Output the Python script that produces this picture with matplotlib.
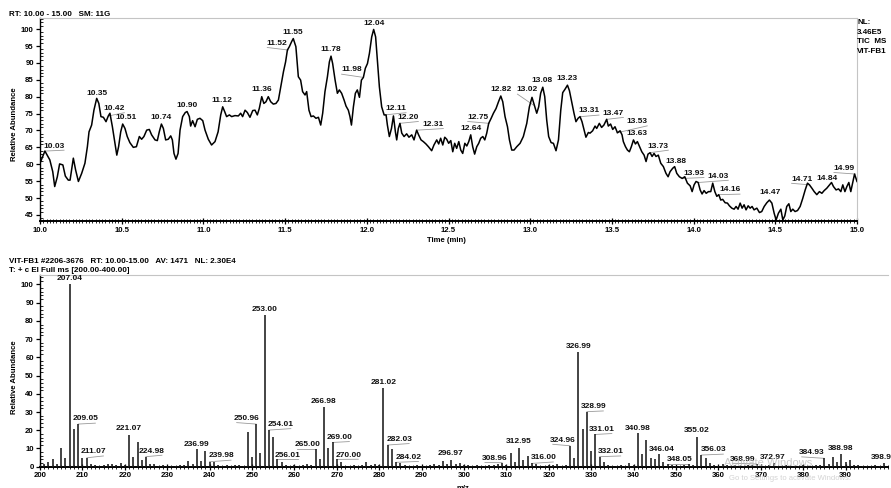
import matplotlib
matplotlib.use('Agg')
import matplotlib.pyplot as plt
from matplotlib.ticker import MultipleLocator

plt.rcParams['font.family'] = ['Liberation Sans', 'DejaVu Sans']

# ---------------- chromatogram (TIC) ----------------
tic_time = [10.000,10.030,10.060,10.078,10.090,10.106,10.120,10.140,10.155,10.173,10.184,10.204,10.218,10.235,10.255,10.275,10.290,10.300,10.316,10.330,10.347,10.360,10.373,10.388,10.404,10.418,10.428,10.443,10.459,10.470,10.481,10.494,10.506,10.520,10.534,10.550,10.571,10.590,10.608,10.622,10.636,10.653,10.669,10.683,10.704,10.718,10.730,10.743,10.755,10.769,10.785,10.800,10.810,10.820,10.832,10.845,10.857,10.873,10.889,10.900,10.914,10.922,10.934,10.949,10.963,10.979,10.996,11.010,11.030,11.050,11.071,11.090,11.106,11.118,11.130,11.142,11.159,11.173,11.193,11.214,11.228,11.240,11.255,11.269,11.285,11.302,11.316,11.330,11.342,11.357,11.370,11.383,11.397,11.412,11.428,11.444,11.459,11.475,11.490,11.503,11.514,11.526,11.540,11.550,
            11.566,11.581,11.595,11.607,11.622,11.632,11.646,11.659,11.673,11.689,11.704,11.718,11.730,11.744,11.759,11.771,11.781,11.791,11.806,11.820,11.832,11.846,11.861,11.873,11.887,11.897,11.906,11.918,11.930,11.942,11.955,11.967,11.979,11.991,12.004,12.016,12.030,12.042,12.054,12.065,12.077,12.091,12.106,12.118,12.126,12.138,12.151,12.163,12.175,12.183,12.193,12.203,12.214,12.228,12.244,12.258,12.275,12.289,12.305,12.317,12.332,12.346,12.362,12.377,12.397,12.411,12.428,12.440,12.452,12.465,12.477,12.489,12.501,12.514,12.526,12.538,12.550,12.563,12.575,12.587,12.600,12.612,12.624,12.636,12.648,12.660,12.673,12.685,12.697,12.710,12.722,12.734,12.746,12.761,12.775,12.791,12.806,12.820,12.832,12.846,12.861,12.873,12.887,12.901,12.918,12.938,12.958,12.979,12.995,13.011,13.025,13.040,13.052,13.064,13.077,13.089,13.101,13.113,13.128,13.142,13.158,13.173,13.187,13.199,13.213,13.228,13.240,13.254,13.268,13.280,13.293,13.305,13.317,13.329,13.341,13.356,
            13.366,13.382,13.397,13.407,13.423,13.437,13.451,13.468,13.478,13.492,13.505,13.519,13.534,13.550,13.562,13.570,13.583,13.595,13.607,13.619,13.632,13.644,13.656,13.668,13.683,13.697,13.709,13.721,13.734,13.746,13.758,13.770,13.784,13.799,13.815,13.831,13.844,13.856,13.872,13.884,13.897,13.913,13.930,13.946,13.962,13.979,13.991,14.003,14.015,14.028,14.040,14.052,14.064,14.077,14.091,14.105,14.117,14.130,14.142,14.154,14.166,14.178,14.193,14.207,14.219,14.234,14.248,14.260,14.272,14.285,14.297,14.309,14.321,14.334,14.346,14.358,14.370,14.387,14.403,14.417,14.432,14.448,14.464,14.479,14.493,14.505,14.519,14.534,14.546,14.558,14.570,14.583,14.595,14.607,14.621,14.636,14.652,14.668,14.683,14.697,14.709,14.724,14.738,14.754,14.770,14.785,14.799,14.815,14.832,14.844,14.856,14.872,14.887,14.901,14.913,14.926,14.938,14.950,14.962,14.975,14.985,15.000]
tic_abund = [60.3,63.9,61.3,57.8,53.4,56.3,60.1,59.8,56.5,55.3,55.3,61.8,58.3,54.9,57.3,60.3,65.2,69.6,71.6,76.0,79.5,78.0,74.1,73.9,72.6,74.3,75.1,71.1,66.2,62.7,65.2,69.6,71.9,70.6,68.2,66.4,65.0,65.2,68.2,67.4,68.2,70.1,70.3,68.7,67.2,67.0,69.6,71.9,70.6,67.2,67.4,68.4,67.2,63.2,61.5,63.2,70.1,74.1,75.3,75.6,74.1,71.3,72.9,71.1,73.3,73.6,72.9,70.1,67.4,65.7,66.7,69.6,74.6,77.0,75.6,74.1,74.6,74.1,74.4,74.3,75.1,74.1,76.0,75.3,73.9,75.9,76.0,74.6,76.5,80.0,78.0,78.5,80.0,78.5,77.8,78.0,79.0,83.4,87.4,90.3,93.8,94.8,96.3,97.2,
             94.8,85.9,84.9,81.5,80.5,81.5,76.0,74.1,74.3,73.6,73.9,71.6,75.1,81.5,85.9,90.3,92.0,89.8,84.9,81.0,82.0,81.0,79.0,77.2,76.0,74.1,71.6,77.0,81.0,82.0,79.8,84.9,85.7,88.4,89.8,92.8,97.7,99.9,97.7,90.8,82.9,77.0,74.6,74.6,71.6,68.2,70.6,74.3,69.6,67.2,70.6,72.1,69.2,68.2,69.0,68.0,68.7,67.2,70.1,68.7,67.2,66.7,66.0,65.2,64.0,65.7,67.2,66.0,67.7,65.7,68.0,67.4,66.2,67.0,63.7,66.2,64.7,66.7,64.2,63.2,66.2,65.4,66.7,68.7,65.2,63.0,65.2,66.2,67.7,68.2,67.2,69.2,72.1,73.6,75.1,76.5,78.5,80.2,78.5,74.1,71.1,67.2,64.2,64.2,65.2,66.2,68.2,72.1,77.0,79.8,77.5,75.1,77.0,81.0,82.8,80.0,73.1,68.2,66.4,66.2,64.0,67.2,76.0,81.2,82.2,83.4,81.8,78.5,75.1,72.6,73.6,74.1,72.6,70.3,68.0,69.4,
             69.2,69.9,71.3,70.6,72.1,70.9,71.6,73.3,71.3,71.9,70.3,71.1,69.3,69.9,68.7,66.7,65.2,64.2,63.7,65.2,67.2,66.0,66.7,65.4,63.7,62.7,60.8,63.0,63.4,62.3,63.2,62.3,62.7,60.3,59.3,57.3,56.3,57.8,58.8,59.3,57.3,56.3,55.8,56.3,54.4,53.6,51.9,53.9,54.9,54.6,52.4,51.2,52.2,51.4,51.9,51.9,54.4,51.9,50.5,51.0,49.4,49.6,48.6,48.5,47.7,47.0,46.7,47.5,46.7,48.5,47.0,48.0,46.5,47.7,47.0,47.5,46.5,47.0,45.7,46.0,47.5,48.6,49.4,48.5,45.5,43.5,45.5,46.7,43.5,44.7,47.5,48.3,46.0,46.7,46.0,46.3,47.5,49.9,52.4,54.4,53.9,52.9,51.9,51.0,51.9,51.4,52.2,52.9,53.9,54.6,53.4,52.4,52.7,51.9,53.9,51.9,53.4,54.6,51.9,54.9,57.1,54.9]

tic_peak_labels = ['10.03','10.35','10.42','10.51','10.74','10.90','11.12','11.36','11.52','11.55',
                   '11.78','11.98','12.04','12.11','12.20','12.31','12.64','12.75','12.82','13.02',
                   '13.08','13.23','13.31','13.47','13.53','13.63','13.73','13.88','13.93','14.03',
                   '14.16','14.47','14.71','14.84','14.99']
# layout: label centres (time, abundance)
tic_label_xy = [(10.086,65.4),(10.351,80.8),(10.455,76.5),(10.526,73.9),(10.742,73.9),(10.901,77.3),
                (11.116,79.0),(11.357,82.0),(11.452,95.8),(11.548,98.9),(11.781,94.0),(11.907,87.9),
                (12.042,101.7),(12.179,76.5),(12.254,73.9),(12.407,71.8),(12.638,70.6),(12.679,73.9),
                (12.819,82.0),(12.983,82.0),(13.074,84.7),(13.227,85.3),(13.360,75.8),(13.509,75.1),
                (13.655,72.6),(13.652,69.0),(13.784,65.4),(13.892,60.7),(14.002,57.3),(14.151,56.5),
                (14.223,52.4),(14.468,51.6),(14.661,55.6),(14.818,55.9),(14.920,58.8)]

# ---------------- mass spectrum ----------------
mz = list(range(200, 400))
intensity = [0.8,1.3,2.4,4.0,1.5,10.0,4.6,100.0,20.7,23.4,
             4.6,4.9,1.3,0.9,0.5,0.9,1.3,1.3,0.9,1.8,
             0.9,17.4,5.5,13.7,3.7,5.5,1.5,1.3,0.5,0.7,
             0.5,0.6,0.5,0.7,1.0,3.3,1.3,9.5,3.1,8.6,
             2.7,2.4,0.8,0.6,0.7,0.5,0.7,0.9,0.6,19.2,
             5.3,23.4,7.3,83.2,20.1,16.5,4.2,2.7,0.9,0.6,
             0.8,0.5,0.7,1.5,0.8,9.7,4.2,32.9,10.0,13.3,
             4.0,2.4,0.6,0.5,0.7,0.5,0.8,2.7,0.9,1.6,
             0.9,43.0,11.9,9.5,2.4,1.8,0.7,0.6,0.5,0.7,
             0.5,0.6,0.8,1.3,0.9,3.3,1.3,3.7,1.3,2.2,
             0.9,0.7,0.6,0.8,0.5,0.6,0.7,0.9,1.6,2.2,
             0.9,7.7,2.7,10.4,3.5,5.9,1.8,1.3,0.6,0.5,
             0.7,0.8,1.3,0.6,0.9,11.5,4.9,63.1,20.5,30.2,
             8.8,17.7,5.5,2.6,0.7,0.6,0.5,0.7,0.6,1.8,
             0.9,18.3,6.8,14.6,4.8,4.4,6.8,2.7,1.5,1.1,
             0.6,0.5,0.7,1.5,0.7,16.5,6.4,4.6,1.8,1.1,
             0.6,1.5,0.8,0.6,0.7,0.5,0.6,0.8,0.7,1.5,
             0.6,0.5,0.7,1.8,0.6,0.5,0.7,0.6,0.5,0.6,
             0.7,0.5,0.6,0.8,1.0,4.6,1.5,5.5,2.7,6.8,
             2.7,3.7,1.1,0.7,0.5,0.6,0.5,0.7,0.6,2.2]

ms_peak_labels = ['207.04','209.05','211.07','221.07','224.98','236.99','239.98','250.96','253.00',
                  '254.01','256.01','265.00','266.98','269.00','270.00','281.02','282.03','284.02',
                  '296.97','308.96','312.95','316.00','324.96','326.99','328.99','331.01','332.01',
                  '340.98','346.04','348.05','355.02','356.03','368.99','372.97','384.93','388.98']
# layout: label centres (m/z, abundance)
ms_label_xy = [(207.08,103.3),(210.7,26.2),(212.6,8.2),(220.9,20.7),(226.4,8.6),(236.96,12.3),
               (242.7,5.9),(248.75,26.5),(253.0,86.5),(256.8,23.2),(258.5,6.4),(263.0,12.0),
               (266.8,35.7),(270.6,16.1),(272.7,6.4),(281.0,46.1),(284.7,15.0),(286.9,5.2),
               (296.7,7.0),(307.3,4.6),(313.0,13.7),(318.7,4.9),(323.3,14.6),(327.0,66.2),
               (330.5,32.9),(332.5,20.5),(334.6,8.2),(340.9,21.1),(346.6,9.5),(350.8,3.7),
               (355.0,19.7),(358.8,9.2),(365.7,4.2),(372.9,5.2),(382.0,7.7),(388.9,10.1)]

W, H = 891, 488
fig = plt.figure(figsize=(W / 100, H / 100), dpi=100)
fig.patch.set_facecolor('white')

lab_fs = 6.0
tick_fs = 5.6
hdr_fs = 5.8
gray = '#c4c4c4'
lead = '#9a9a9a'


def style_axes(ax):
    ax.spines['top'].set_color(gray)
    ax.spines['right'].set_color(gray)
    ax.spines['left'].set_color('black')
    ax.spines['bottom'].set_color('black')
    ax.spines['left'].set_linewidth(1.0)
    ax.spines['bottom'].set_linewidth(1.4)
    ax.tick_params(axis='both', which='major', labelsize=tick_fs, width=0.9, color='black', pad=1.5)
    ax.tick_params(axis='y', which='major', direction='out', length=3)
    ax.tick_params(axis='y', which='minor', direction='in', length=2, width=0.6)
    ax.tick_params(axis='x', which='major', direction='inout', length=5)
    ax.tick_params(axis='x', which='minor', direction='inout', length=3, width=0.6)
    for lab in ax.get_xticklabels() + ax.get_yticklabels():
        lab.set_fontweight('bold')


# ---- top: chromatogram ----
ax1 = fig.add_axes([40 / W, 1 - 221 / H, (857 - 40) / W, (221 - 18.3) / H])
ax1.plot(tic_time, tic_abund, color='black', lw=1.1, zorder=3)
ax1.set_xlim(10.0, 15.0)
ax1.set_ylim(43.2, 103.2)
ax1.xaxis.set_minor_locator(MultipleLocator(0.02))
ax1.yaxis.set_minor_locator(MultipleLocator(1))
ax1.set_yticks(range(45, 101, 5))
xt = [10.0, 10.5, 11.0, 11.5, 12.0, 12.5, 13.0, 13.5, 14.0, 14.5, 15.0]
ax1.set_xticks(xt)
ax1.set_xticklabels(['%.1f' % v for v in xt])
style_axes(ax1)
t_per_px = 5.0 / 817.0
v_per_px1 = 60.0 / 202.7
for txt, (x, y) in zip(tic_peak_labels, tic_label_xy):
    ax1.text(x, y, txt, fontsize=lab_fs, fontweight='bold', ha='center', va='center', color='#111111', zorder=4)
    pt = float(txt)
    i = min(range(len(tic_time)), key=lambda k: abs(tic_time[k] - pt))
    pv = tic_abund[i]
    if abs(x - pt) / t_per_px > 4:
        yb = y - 4.2 * v_per_px1
        ax1.plot([pt, x + (10 if x > pt else -10) * t_per_px], [min(pv, yb), yb],
                 color=lead, lw=0.6, zorder=2)

# ---- bottom: mass spectrum ----
ax2 = fig.add_axes([40 / W, 1 - 466.7 / H, (888 - 40) / W, (466.7 - 275) / H])
ax2.vlines(mz, 0, intensity, color='#1a1a1a', lw=1.15, zorder=3)
ax2.set_xlim(200, 400)
ax2.set_ylim(0, 105.2)
ax2.set_xticks(list(range(200, 391, 10)))
ax2.xaxis.set_minor_locator(MultipleLocator(1))
ax2.set_yticks(list(range(0, 101, 10)))
ax2.yaxis.set_minor_locator(MultipleLocator(2))
ax2.spines['right'].set_visible(False)
style_axes(ax2)
mz_per_px = 200.0 / 848.0
v_per_px2 = 105.2 / 191.7
for txt, (x, y) in zip(ms_peak_labels, ms_label_xy):
    ax2.text(x, y, txt, fontsize=lab_fs, fontweight='bold', ha='center', va='center', color='#111111',
             clip_on=False, zorder=4)
    pm = round(float(txt))
    pv = intensity[mz.index(pm)]
    if abs(x - float(txt)) / mz_per_px > 4:
        yb = y - 4.2 * v_per_px2
        ax2.plot([float(txt), x + (10 if x > float(txt) else -10) * mz_per_px], [min(pv, yb), yb],
                 color=lead, lw=0.6, zorder=2)
ax2.text(396.0, 5.2, '398.96', fontsize=lab_fs, fontweight='bold', ha='left', va='center', color='#111111',
         clip_on=False)

# ---- headers and axis titles ----
def ftext(px, py, s, **kw):
    fig.text(px / W, 1 - py / H, s, **kw)

ftext(9, 14, 'RT: 10.00 - 15.00   SM: 11G', fontsize=hdr_fs, fontweight='bold', va='center', ha='left')
for i, s in enumerate(['NL:', '3.46E5', 'TIC  MS', 'VIT-FB1']):
    ftext(857, 22.5 + i * 9.6, s, fontsize=hdr_fs, fontweight='bold', va='center', ha='left')
ftext(9, 261.5, 'VIT-FB1 #2206-3676   RT: 10.00-15.00   AV: 1471   NL: 2.30E4', fontsize=hdr_fs,
      fontweight='bold', va='center', ha='left')
ftext(9, 270.8, 'T: + c EI Full ms [200.00-400.00]', fontsize=hdr_fs, fontweight='bold', va='center', ha='left')
ftext(14.5, 124, 'Relative Abundance', fontsize=5.6, fontweight='bold', rotation=90, va='center', ha='center')
ftext(14.5, 377, 'Relative Abundance', fontsize=5.6, fontweight='bold', rotation=90, va='center', ha='center')
ftext(446, 240, 'Time (min)', fontsize=5.6, fontweight='bold', va='center', ha='center')
ftext(463, 488, 'm/z', fontsize=5.6, fontweight='bold', va='center', ha='center')

# faint OS watermark visible in the reference
ftext(768, 463, 'Activate Windows', fontsize=8, color='#bdbdbd', va='center', ha='center', alpha=0.8)
ftext(790, 478, 'Go to Settings to activate Windows.', fontsize=5.5, color='#c8c8c8', va='center', ha='center',
      alpha=0.8)

fig.savefig('out.png', dpi=100, facecolor='white')
